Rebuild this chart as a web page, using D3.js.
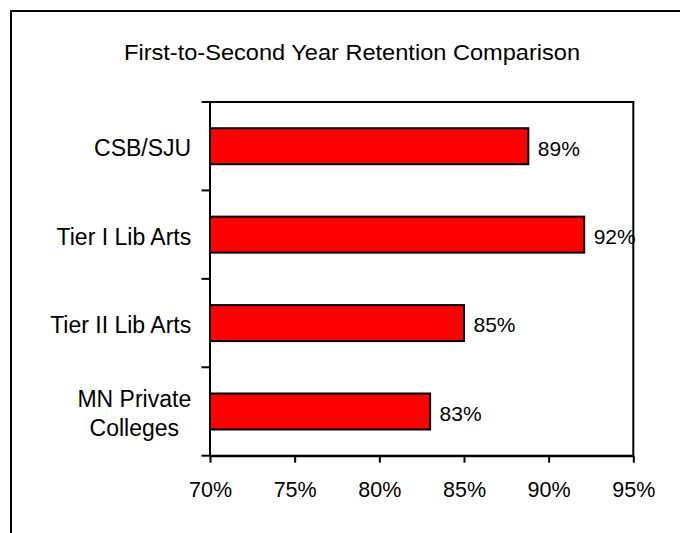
<!DOCTYPE html>
<html>
<head>
<meta charset="utf-8">
<script src="https://cdn.jsdelivr.net/npm/d3@7"></script>
<style>
  html, body { margin: 0; padding: 0; background: #fff; }
  svg { display: block; }
  text { font-family: "Liberation Sans", Arial, sans-serif; fill: #000; }
</style>
</head>
<body>
<svg id="chart" width="680" height="533"></svg>
<script>
const title = "First-to-Second Year Retention Comparison";
const categories = ["CSB/SJU", "Tier I Lib Arts", "Tier II Lib Arts", "MN Private\nColleges"];
const values = [88.8, 92.1, 85.0, 83.0];
const xTicks = [70, 75, 80, 85, 90, 95];

const svg = d3.select("#chart");
const plot = { left: 210, right: 633.3, top: 102, bottom: 455.7 };

// outer frame (extends beyond window on right/bottom)
svg.append("rect")
  .attr("x", 11).attr("y", 11).attr("width", 720).attr("height", 600)
  .attr("fill", "#fff").attr("stroke", "#000").attr("stroke-width", 2);

svg.append("text")
  .attr("x", 124).attr("y", 59.5)
  .attr("font-size", 22.5)
  .attr("textLength", 456).attr("lengthAdjust", "spacingAndGlyphs")
  .text(title);

const x = d3.scaleLinear().domain([70, 95]).range([plot.left, plot.right]);
const y = d3.scaleBand().domain(categories).range([plot.top, plot.bottom])
  .paddingInner(0.593).paddingOuter(0.2965);

// plot area border
svg.append("rect")
  .attr("x", plot.left).attr("y", plot.top)
  .attr("width", plot.right - plot.left).attr("height", plot.bottom - plot.top)
  .attr("fill", "none").attr("stroke", "#000").attr("stroke-width", 2);

// bars
svg.append("g").selectAll("rect").data(categories).join("rect")
  .attr("x", x(70))
  .attr("y", d => y(d))
  .attr("width", (d, i) => x(values[i]) - x(70))
  .attr("height", y.bandwidth())
  .attr("fill", "#ff0000").attr("stroke", "#000").attr("stroke-width", 2);

// value labels
const fmt = d => d3.format(".0f")(d) + "%";
svg.append("g").selectAll("text").data(categories).join("text")
  .attr("x", (d, i) => x(values[i]) + 9.5)
  .attr("y", d => y(d) + y.bandwidth() / 2 + 9.3)
  .attr("font-size", 21)
  .text((d, i) => fmt(values[i]));

// x axis
const xAxis = d3.axisBottom(x).tickValues(xTicks).tickFormat(d => d + "%").tickSize(7).tickSizeOuter(0).tickPadding(19);
const gx = svg.append("g").attr("transform", `translate(0,${plot.bottom})`).call(xAxis);
gx.select(".domain").attr("stroke", "#000").attr("stroke-width", 2);
gx.selectAll(".tick line").attr("stroke", "#000").attr("stroke-width", 2);
gx.selectAll(".tick text").attr("font-size", 21.5).attr("font-family", "Liberation Sans, Arial, sans-serif").attr("fill", "#000");

// y axis ticks at category boundaries
const step = y.step();
const boundaries = d3.range(categories.length + 1).map(i => plot.top + i * step);
svg.append("g").selectAll("line").data(boundaries).join("line")
  .attr("x1", plot.left - 8.5).attr("x2", plot.left)
  .attr("y1", d => d).attr("y2", d => d)
  .attr("stroke", "#000").attr("stroke-width", 2);

// category labels (wrapped lines centered within a right-aligned block)
const labelRight = 191.2;
const lineH = 28.3;
const gl = svg.append("g");
categories.forEach(cat => {
  const lines = cat.split("\n");
  const cy = y(cat) + y.bandwidth() / 2;
  const t = gl.append("text").attr("font-size", 23).attr("text-anchor", "middle");
  const spans = lines.map((ln, i) => t.append("tspan")
    .attr("y", cy + 10 + (i - (lines.length - 1) / 2) * lineH)
    .text(ln));
  const maxW = d3.max(spans, s => s.node().getComputedTextLength());
  spans.forEach(s => s.attr("x", labelRight - maxW / 2));
});
</script>
</body>
</html>
